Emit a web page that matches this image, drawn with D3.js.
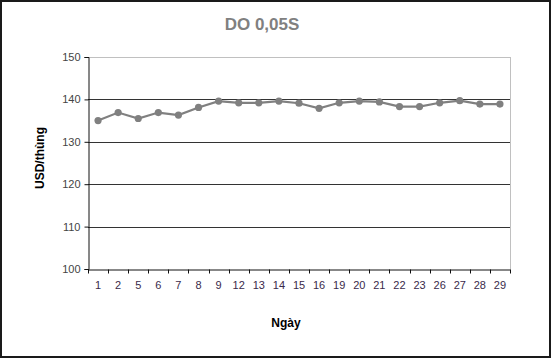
<!DOCTYPE html>
<html><head><meta charset="utf-8">
<script src="https://cdn.jsdelivr.net/npm/d3@7"></script>
<style>body{margin:0;background:#fff}svg{display:block}text{font-family:"Liberation Sans",Arial,sans-serif}</style>
</head><body>
<svg id="c" width="553" height="359"></svg>
<script>
const days = ["1","2","5","6","7","8","9","12","13","14","15","16","19","20","21","22","23","26","27","28","29"];
const prices = [135.0,136.9,135.5,136.9,136.3,138.1,139.6,139.2,139.2,139.6,139.1,137.9,139.2,139.6,139.4,138.3,138.3,139.2,139.7,138.9,138.9];
const yTicks = [100,110,120,130,140,150];
const title = "DO 0,05S";
const xTitle = "Ngày";
const yTitle = "USD/thùng";

const svg = d3.select("#c");
const L=88,R=510,T=57,B=269;
svg.append("rect").attr("x",1).attr("y",1).attr("width",549).attr("height",356)
  .attr("fill","#fff").attr("stroke","#1a1a1a").attr("stroke-width",2);

const x = d3.scaleBand().domain(days).range([L,R]);
const y = d3.scaleLinear().domain([100,150]).range([B,T]);

// plot border (top/right light gray)
svg.append("line").attr("x1",L).attr("x2",R).attr("y1",T+0.5).attr("y2",T+0.5).attr("stroke","#c0c0c0");
svg.append("line").attr("x1",R+0.5).attr("x2",R+0.5).attr("y1",T).attr("y2",B).attr("stroke","#c0c0c0");

// gridlines
svg.append("g").selectAll("line").data(yTicks.filter(v=>v>100&&v<150)).join("line")
  .attr("x1",L).attr("x2",R).attr("y1",d=>Math.round(y(d))+0.5).attr("y2",d=>Math.round(y(d))+0.5)
  .attr("stroke","#333").attr("stroke-width",1);

// y axis
const ya = svg.append("g").attr("transform",`translate(${L+0.5},0)`)
  .call(d3.axisLeft(y).tickValues(yTicks).tickSize(4).tickPadding(4));
ya.selectAll("text").attr("font-size",11).attr("fill","#444").style("font-family","Liberation Sans, Arial");
ya.selectAll("line,path").attr("stroke","#111");

// x axis with ticks at boundaries
const xa = svg.append("g").attr("transform",`translate(0,${B+0.5})`)
  .call(d3.axisBottom(x).tickSize(0).tickPadding(12));
xa.selectAll("text").attr("font-size",11).attr("fill","#3a2a4a").style("font-family","Liberation Sans, Arial");
xa.select("path").attr("stroke","#111");
xa.selectAll(".bnd").data(days.concat(["_end"])).join("line").attr("class","bnd")
  .attr("x1",(d,i)=>Math.round(L+i*x.step())+0.5).attr("x2",(d,i)=>Math.round(L+i*x.step())+0.5)
  .attr("y1",0).attr("y2",4).attr("stroke","#111");

// line
const cx = d=>x(d)+x.bandwidth()/2;
svg.append("path").datum(days.map((d,i)=>[cx(d),y(prices[i])]))
  .attr("d",d3.line()).attr("fill","none").attr("stroke","#808080").attr("stroke-width",2.2);
svg.append("g").selectAll("circle").data(days).join("circle")
  .attr("cx",cx).attr("cy",(d,i)=>y(prices[i])).attr("r",3.6).attr("fill","#808080");

// titles
svg.append("text").attr("x",262).attr("y",30).attr("text-anchor","middle")
  .attr("font-size",17).attr("font-weight","bold").attr("fill","#808080").text(title);
svg.append("text").attr("x",286).attr("y",327).attr("text-anchor","middle")
  .attr("font-size",12).attr("font-weight","bold").attr("fill","#000").text(xTitle);
svg.append("text").attr("transform","translate(44,158) rotate(-90)").attr("text-anchor","middle")
  .attr("font-size",12).attr("font-weight","bold").attr("fill","#000").text(yTitle);
</script>
</body></html>
